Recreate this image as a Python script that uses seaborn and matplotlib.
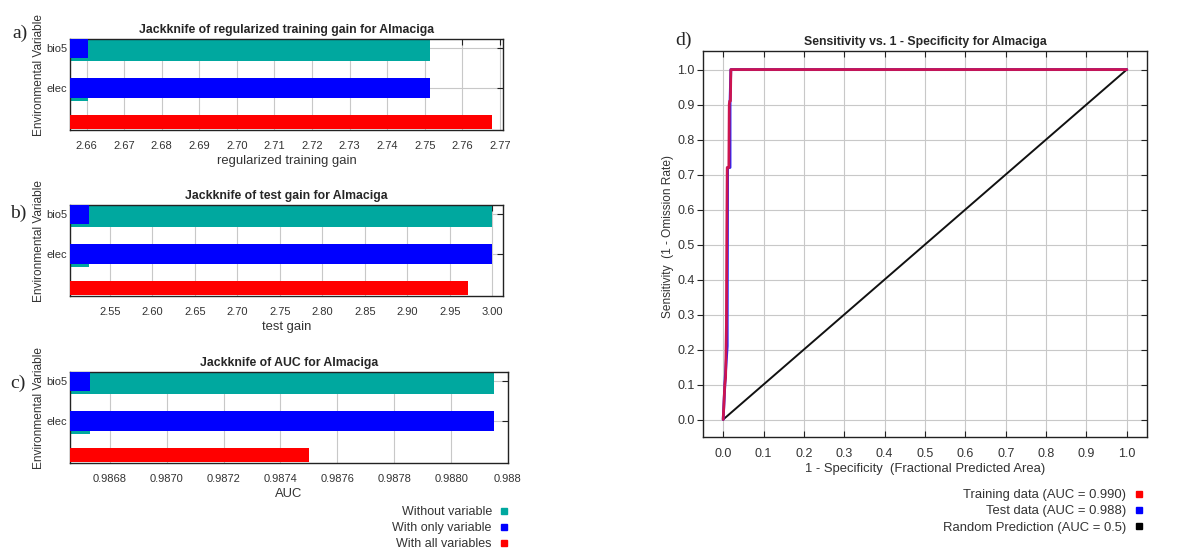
import matplotlib
matplotlib.use("Agg")
import matplotlib.pyplot as plt
from matplotlib import font_manager
from matplotlib.lines import Line2D
import seaborn as sns

sns.set_style("white")
installed = {f.name for f in font_manager.fontManager.ttflist}
NARROW = "Liberation Sans Narrow" if "Liberation Sans Narrow" in installed else "Liberation Sans"
plt.rcParams["font.family"] = ["Liberation Sans", "DejaVu Sans"]

# ---- data ----
variables = ["bio5", "elec"]

gain_without = [2.7513, 2.6604]
gain_only = [2.6604, 2.7513]
gain_all = 2.7678
gain_ticks = [2.66, 2.67, 2.68, 2.69, 2.70, 2.71, 2.72, 2.73, 2.74, 2.75, 2.76, 2.77]
gain_labels = ["2.66", "2.67", "2.68", "2.69", "2.70", "2.71", "2.72", "2.73", "2.74", "2.75", "2.76", "2.77"]

test_without = [3.000, 2.525]
test_only = [2.525, 3.000]
test_all = 2.9715
test_ticks = [2.55, 2.60, 2.65, 2.70, 2.75, 2.80, 2.85, 2.90, 2.95, 3.00]
test_labels = ["2.55", "2.60", "2.65", "2.70", "2.75", "2.80", "2.85", "2.90", "2.95", "3.00"]

auc_without = [0.98815, 0.98673]
auc_only = [0.98673, 0.98815]
auc_all = 0.98750
auc_ticks = [0.9868, 0.9870, 0.9872, 0.9874, 0.9876, 0.9878, 0.9880, 0.9882]
auc_labels = ["0.9868", "0.9870", "0.9872", "0.9874", "0.9876", "0.9878", "0.9880", "0.988"]

train_fpr = [0.000, 0.004, 0.006, 0.008, 0.009, 0.010, 0.014, 0.015, 0.016, 0.018, 0.019, 1.000]
train_tpr = [0.000, 0.100, 0.120, 0.270, 0.540, 0.720, 0.720, 0.900, 0.910, 0.910, 1.000, 1.000]
test_fpr = [0.000, 0.005, 0.010, 0.010, 0.011, 0.017, 0.017, 0.019, 1.000]
test_tpr = [0.000, 0.120, 0.210, 0.280, 0.720, 0.720, 0.910, 1.000, 1.000]
random_fpr = [0.0, 1.0]
random_tpr = [0.0, 1.0]
roc_ticks = [0.0, 0.1, 0.2, 0.3, 0.4, 0.5, 0.6, 0.7, 0.8, 0.9, 1.0]
roc_labels = ["0.0", "0.1", "0.2", "0.3", "0.4", "0.5", "0.6", "0.7", "0.8", "0.9", "1.0"]

TEAL = "#00a89f"
BLUE = "#0000ff"
RED = "#ff0000"
GRID = "#c8c8c8"
TXT = "#333333"

W, H = 1193, 560
fig = plt.figure(figsize=(W / 100, H / 100), dpi=100)


def px_axes(left, top, right, bottom):
    return fig.add_axes([left / W, 1 - bottom / H, (right - left) / W, (bottom - top) / H])


def jackknife(ax, without, only, allv, xlim, ticks, labels, title, xlabel):
    for i in range(len(variables)):
        ax.barh(i + 0.07, without[i] - xlim[0], left=xlim[0], height=0.52, color=TEAL, lw=0, zorder=2)
        ax.barh(i, only[i] - xlim[0], left=xlim[0], height=0.48, color=BLUE, lw=0, zorder=3)
    ax.barh(1.85, allv - xlim[0], left=xlim[0], height=0.35, color=RED, lw=0, zorder=3)
    ax.set_xlim(*xlim)
    ax.set_ylim(2.05, -0.225)
    ax.set_xticks(ticks)
    ax.set_xticklabels(labels, fontfamily=NARROW, fontsize=8, color=TXT)
    ax.set_yticks(range(len(variables)))
    ax.set_yticklabels(variables, fontfamily=NARROW, fontsize=8, color=TXT)
    ax.grid(True, color=GRID, lw=0.8, zorder=0)
    ax.set_axisbelow(True)
    ax.tick_params(axis="x", bottom=False, top=True, direction="in", length=4, pad=8, color="#222222")
    ax.tick_params(axis="y", left=False, right=True, direction="in", length=4, pad=2, color="#222222")
    for s in ax.spines.values():
        s.set_color("#222222")
        s.set_linewidth(1.0)
    ax.set_title(title, fontsize=8.8, fontweight="bold", pad=4)
    ax.set_xlabel(xlabel, fontfamily=NARROW, fontsize=9.4, color=TXT, labelpad=3)
    ax.set_ylabel("Environmental Variable", fontsize=8.6, color=TXT)
    ax.yaxis.set_label_coords(-0.058, 0.6)


ax_a = px_axes(70, 39, 503, 130)
jackknife(ax_a, gain_without, gain_only, gain_all, (2.6556, 2.7708), gain_ticks, gain_labels,
          "Jackknife of regularized training gain for Almaciga", "regularized training gain")

ax_b = px_axes(70, 205, 503, 296)
jackknife(ax_b, test_without, test_only, test_all, (2.503, 3.0126), test_ticks, test_labels,
          "Jackknife of test gain for Almaciga", "test gain")

ax_c = px_axes(70, 372, 508, 463)
jackknife(ax_c, auc_without, auc_only, auc_all, (0.98666, 0.98820), auc_ticks, auc_labels,
          "Jackknife of AUC for Almaciga", "AUC")

jk_handles = [Line2D([], [], ls="", marker="s", markersize=4, color=c) for c in (TEAL, BLUE, RED)]
fig.legend(jk_handles, ["Without variable", "With only variable", "With all variables"],
           loc="upper right", bbox_to_anchor=(508 / W, 1 - 506 / H), frameon=False,
           markerfirst=False, handlelength=0.6, handletextpad=0.7, labelspacing=0.32,
           borderpad=0, borderaxespad=0, prop={"family": NARROW, "size": 9}, labelcolor=TXT)

# ---- ROC panel ----
ax_d = px_axes(703, 51, 1147, 437)
sns.lineplot(x=test_fpr, y=test_tpr, ax=ax_d, color="#2020ff", lw=2, sort=False, estimator=None, zorder=3)
sns.lineplot(x=train_fpr, y=train_tpr, ax=ax_d, color="#cc1450", lw=2, sort=False, estimator=None, zorder=4)
sns.lineplot(x=random_fpr, y=random_tpr, ax=ax_d, color="#111111", lw=1.4, sort=False, estimator=None, zorder=2)
ax_d.set_xlim(-0.05, 1.05)
ax_d.set_ylim(-0.05, 1.053)
ax_d.set_xticks(roc_ticks)
ax_d.set_xticklabels(roc_labels, fontfamily=NARROW, fontsize=9, color=TXT)
ax_d.set_yticks(roc_ticks)
ax_d.set_yticklabels(roc_labels, fontfamily=NARROW, fontsize=9, color=TXT)
ax_d.grid(True, color=GRID, lw=0.8, zorder=0)
ax_d.set_axisbelow(True)
ax_d.tick_params(axis="x", bottom=True, top=True, direction="in", length=4, pad=8, color="#222222")
ax_d.tick_params(axis="y", left=True, right=False, direction="out", length=4, pad=2, color="#222222")
for s in ax_d.spines.values():
    s.set_color("#222222")
    s.set_linewidth(1.0)
ax_d.set_title("Sensitivity vs. 1 - Specificity for Almaciga", fontsize=8.8, fontweight="bold", pad=4)
ax_d.set_xlabel("1 - Specificity  (Fractional Predicted Area)", fontfamily=NARROW, fontsize=9.4,
                color=TXT, labelpad=2)
ax_d.set_ylabel("Sensitivity  (1 - Omission Rate)", fontsize=8.6, color=TXT)
ax_d.yaxis.set_label_coords(-0.066, 0.52)

# inward ticks on the right edge
ax_r = ax_d.twinx()
ax_r.set_ylim(ax_d.get_ylim())
ax_r.set_yticks(roc_ticks)
ax_r.tick_params(axis="y", right=True, direction="in", length=4, labelright=False, color="#222222")
ax_r.grid(False)
for s in ax_r.spines.values():
    s.set_visible(False)

roc_handles = [Line2D([], [], ls="", marker="s", markersize=4, color=c) for c in (RED, BLUE, "black")]
fig.legend(roc_handles, ["Training data (AUC = 0.990)", "Test data (AUC = 0.988)",
                         "Random Prediction (AUC = 0.5)"],
           loc="upper right", bbox_to_anchor=(1143 / W, 1 - 489 / H), frameon=False,
           markerfirst=False, handlelength=0.6, handletextpad=0.7, labelspacing=0.32,
           borderpad=0, borderaxespad=0, prop={"family": NARROW, "size": 9.4}, labelcolor=TXT)

# panel letters
for letter, x, y in [("a)", 20, 33), ("b)", 18, 213), ("c)", 18, 383), ("d)", 683, 40)]:
    fig.text(x / W, 1 - y / H, letter, family="Liberation Serif", fontsize=14, ha="center", va="center")

fig.savefig("out.png", dpi=100)
